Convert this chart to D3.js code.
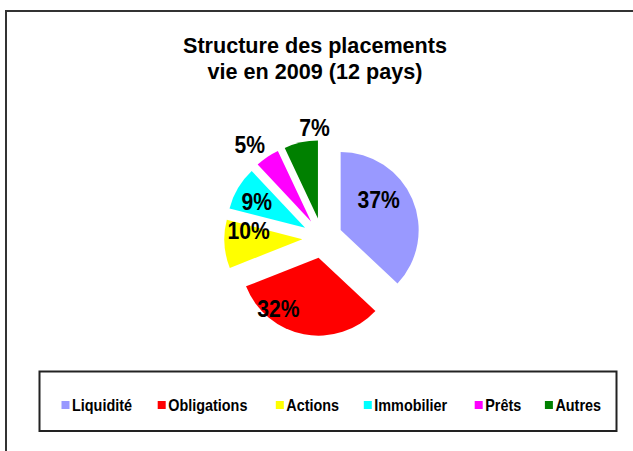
<!DOCTYPE html>
<html>
<head>
<meta charset="utf-8">
<script src="https://cdn.jsdelivr.net/npm/d3@7"></script>
<style>
  html, body { margin: 0; padding: 0; background: #fff; }
  svg { display: block; }
  text { font-family: "Liberation Sans", Arial, sans-serif; font-weight: bold; fill: #000; }
</style>
</head>
<body>
<svg id="chart" width="633" height="451"></svg>
<script>
// Structure des placements vie en 2009 (12 pays), en % du total
const categories = ["Liquidité", "Obligations", "Actions", "Immobilier", "Prêts", "Autres"];
const shares = [37, 32, 10, 9, 5, 7];
const colors = ["#9999FF", "#FF0000", "#FFFF00", "#00FFFF", "#FF00FF", "#008000"];
const titleLines = ["Structure des placements", "vie en 2009 (12 pays)"];

// Layout
const W = 633, H = 451;
const pieCenter = [322.3, 238];
const radius = 78;
const explode = 20;
// label anchors: [angle in degrees clockwise from 12 o'clock, distance from pie centre]
const labelPolar = [[56, 68], [212, 83], [276, 74], [299, 75], [322, 118], [356, 111]];
const labelSize = 23;
const labelSqueeze = 0.92;
const legendSize = 16;
const legendSqueeze = 0.9;

const svg = d3.select("#chart");

// chart frame
svg.append("rect")
  .attr("x", 6).attr("y", 11)
  .attr("width", W + 10).attr("height", H + 10)
  .attr("fill", "#fff")
  .attr("stroke", "#333").attr("stroke-width", 2);

// title
svg.append("g").selectAll("text")
  .data(titleLines)
  .join("text")
  .attr("x", 315)
  .attr("y", (d, i) => 53 + i * 26)
  .attr("text-anchor", "middle")
  .attr("font-size", 21.6)
  .text(d => d);

// pie
const pie = d3.pie().sort(null).value(d => d.value).startAngle(0).endAngle(2 * Math.PI);
const arc = d3.arc().innerRadius(0).outerRadius(radius);
const arcs = pie(categories.map((c, i) => ({ name: c, value: shares[i], color: colors[i] })));

const gPie = svg.append("g").attr("transform", `translate(${pieCenter[0]},${pieCenter[1]})`);
gPie.selectAll("path")
  .data(arcs)
  .join("path")
  .attr("d", arc)
  .attr("fill", d => d.data.color)
  .attr("transform", d => {
    const mid = (d.startAngle + d.endAngle) / 2;
    return `translate(${explode * Math.sin(mid)},${-explode * Math.cos(mid)})`;
  });

// value labels
gPie.selectAll("text")
  .data(arcs)
  .join("text")
  .attr("text-anchor", "middle")
  .attr("font-size", labelSize)
  .attr("transform", (d, i) => {
    const a = labelPolar[i][0] * Math.PI / 180, r = labelPolar[i][1];
    const x = r * Math.sin(a), y = -r * Math.cos(a) + 0.36 * labelSize;
    return `translate(${x},${y}) scale(${labelSqueeze},1)`;
  })
  .text(d => d3.format(".0f")(d.data.value) + "%");

// legend
const legend = svg.append("g");
legend.append("rect")
  .attr("x", 39.5).attr("y", 371.5)
  .attr("width", 577).attr("height", 59.5)
  .attr("fill", "#fff")
  .attr("stroke", "#222").attr("stroke-width", 2);

const legendX = [61.5, 157.7, 275.8, 363.8, 474.7, 544.9];
const items = legend.selectAll("g.item")
  .data(categories)
  .join("g")
  .attr("class", "item")
  .attr("transform", (d, i) => `translate(${legendX[i]},401)`);
items.append("rect")
  .attr("width", 8).attr("height", 8)
  .attr("fill", (d, i) => colors[i]);
items.append("text")
  .attr("transform", `translate(10.5,10) scale(${legendSqueeze},1)`)
  .attr("font-size", legendSize)
  .text(d => d);
</script>
</body>
</html>
